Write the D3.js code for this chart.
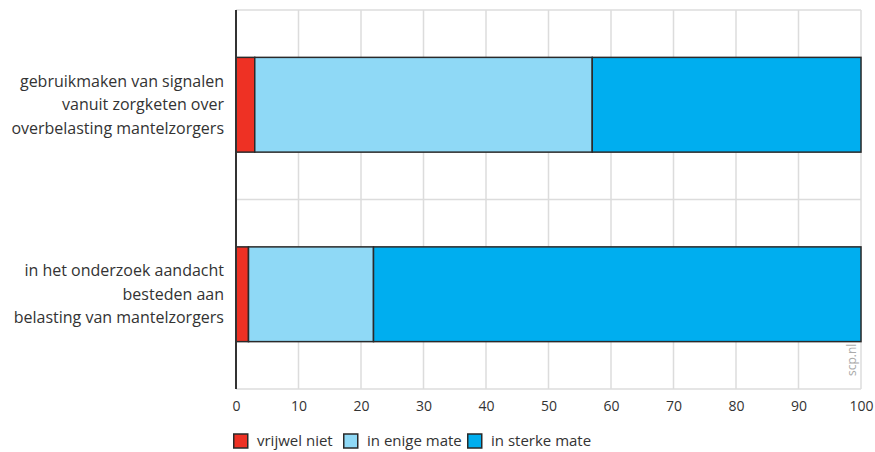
<!DOCTYPE html>
<html><head><meta charset="utf-8">
<script src="https://cdn.jsdelivr.net/npm/d3@7"></script>
<style>body{margin:0;background:#fff}svg{display:block}</style>
</head><body><svg id="c" width="875" height="452"></svg>
<script>
const categories = [
  ["gebruikmaken van signalen","vanuit zorgketen over","overbelasting mantelzorgers"],
  ["in het onderzoek aandacht","besteden aan","belasting van mantelzorgers"]
];
const seriesNames = ["vrijwel niet","in enige mate","in sterke mate"];
const vrijwelNiet = [3, 2];
const inEnigeMate = [54, 20];
const inSterkeMate = [43, 78];
const tickValues = [0,10,20,30,40,50,60,70,80,90,100];
const colors = ["#ee3124","#8fd9f6","#00aeef"];

const svg = d3.select("#c");
const font = "'Open Sans', sans-serif";
const x = d3.scaleLinear().domain([0,100]).range([236,861]);
const y = d3.scaleBand().domain(d3.range(categories.length)).range([10,389]).paddingInner(0.5).paddingOuter(0.25);
const yOuter = d3.scaleBand().domain(d3.range(categories.length)).range([10,389]);

// gridlines vertical
svg.append("g").selectAll("line").data(tickValues.slice(1)).join("line")
  .attr("x1",d=>x(d)).attr("x2",d=>x(d)).attr("y1",10).attr("y2",389)
  .attr("stroke","#dcdcdc").attr("stroke-width",1.5);
// horizontal band lines
const hl = [10, ...categories.map((c,i)=>yOuter(i)+yOuter.bandwidth())];
svg.append("g").selectAll("line").data(hl).join("line")
  .attr("x1",236).attr("x2",861).attr("y1",d=>d).attr("y2",d=>d)
  .attr("stroke","#dcdcdc").attr("stroke-width",1.5);

// stacked
const rows = categories.map((c,i)=>({i, vals:[vrijwelNiet[i],inEnigeMate[i],inSterkeMate[i]]}));
const stack = d3.stack().keys([0,1,2]).value((d,k)=>d.vals[k]);
const stacked = stack(rows);
stacked.forEach((s,k)=>{
  svg.append("g").selectAll("rect").data(s).join("rect")
    .attr("x",d=>x(d[0])).attr("width",d=>x(d[1])-x(d[0]))
    .attr("y",d=>y(d.data.i)).attr("height",y.bandwidth())
    .attr("fill",colors[k]).attr("stroke","#2a2a2a").attr("stroke-width",1.5);
});

// left axis line
svg.append("line").attr("x1",236).attr("x2",236).attr("y1",10).attr("y2",389)
  .attr("stroke","#333").attr("stroke-width",2);

// x axis labels
const xAxis = d3.axisBottom(x).tickValues(tickValues).tickSize(0).tickPadding(12);
const gx = svg.append("g").attr("transform","translate(0,389)").call(xAxis);
gx.select(".domain").remove();
gx.selectAll("text").attr("font-family",font).attr("font-size",14).attr("fill","#333");

// category labels
categories.forEach((lines,i)=>{
  const cy = yOuter(i)+yOuter.bandwidth()/2;
  const t = svg.append("text").attr("text-anchor","end").attr("font-family",font)
    .attr("font-size",16).attr("fill","#333");
  lines.forEach((l,j)=>{
    t.append("tspan").attr("x",224).attr("y",cy+(j-1)*23.5).attr("dy","0.35em").text(l);
  });
});

// watermark
svg.append("text").attr("transform","translate(856,376) rotate(-90)")
  .attr("font-family",font).attr("font-size",12).attr("fill","#aaa").text("scp.nl");

// legend
const legX = [233, 343, 467];
seriesNames.forEach((n,k)=>{
  svg.append("rect").attr("x",legX[k]+0.75).attr("y",434).attr("width",14).attr("height",14)
    .attr("fill",colors[k]).attr("stroke","#2a2a2a").attr("stroke-width",1.5);
  svg.append("text").attr("x",legX[k]+24).attr("y",441).attr("dy","0.35em")
    .attr("font-family",font).attr("font-size",15).attr("fill","#333").text(n);
});
</script></body></html>
